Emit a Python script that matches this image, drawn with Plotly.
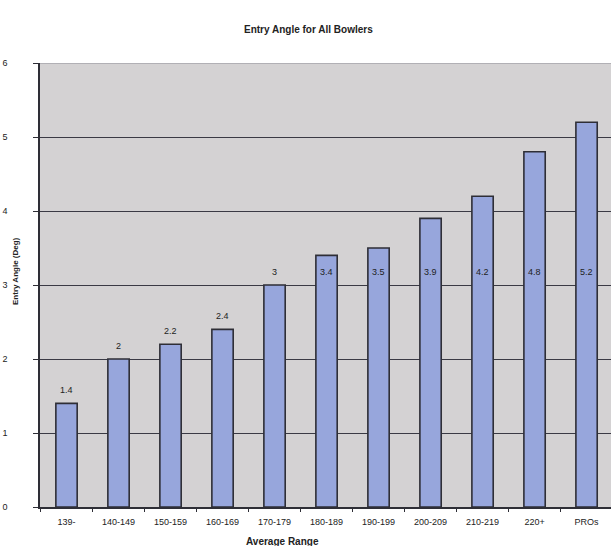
import plotly.graph_objects as go

# Average ranges and mean entry angle (degrees) for each group
ranges = ["139-", "140-149", "150-159", "160-169", "170-179", "180-189",
          "190-199", "200-209", "210-219", "220+", "PROs"]
angles = [1.4, 2, 2.2, 2.4, 3, 3.4, 3.5, 3.9, 4.2, 4.8, 5.2]
y_ticks = [0, 1, 2, 3, 4, 5, 6]

FONT = "Liberation Sans, Arial, sans-serif"
DARK = "#2e2e36"

fig = go.Figure()
fig.add_trace(go.Bar(
    x=ranges, y=angles, width=0.41,
    marker=dict(color="#97a6dc", line=dict(color=DARK, width=1.6)),
    hoverinfo="x+y",
))

# Value labels: short bars get their label on top, tall bars carry it inside
annotations = []
inside_level = 3.18
for cat, val in zip(ranges, angles):
    if val <= 3:
        annotations.append(dict(x=cat, y=val, xref="x", yref="y", text=str(val),
                                showarrow=False, yanchor="bottom", yshift=6,
                                font=dict(family=FONT, size=9, color="#222")))
    else:
        annotations.append(dict(x=cat, y=inside_level, xref="x", yref="y", text=str(val),
                                showarrow=False, yanchor="middle",
                                font=dict(family=FONT, size=9, color="#222")))

annotations.append(dict(x=(308 - 40) / 571, y=(507 - 30) / 444, xref="paper", yref="paper",
                        text="<b>Entry Angle for All Bowlers</b>", showarrow=False,
                        xanchor="center", yanchor="middle",
                        font=dict(family=FONT, size=10, color="#222")))
annotations.append(dict(x=(15 - 40) / 571, y=(507 - 271) / 444, xref="paper", yref="paper",
                        text="<b>Entry Angle (Deg)</b>", showarrow=False, textangle=-90,
                        xanchor="center", yanchor="middle",
                        font=dict(family=FONT, size=8, color="#222")))
annotations.append(dict(x=(282 - 40) / 571, y=(507 - 541) / 444, xref="paper", yref="paper",
                        text="<b>Average Range</b>", showarrow=False,
                        xanchor="center", yanchor="middle",
                        font=dict(family=FONT, size=10, color="#222")))

fig.update_layout(
    width=611, height=546,
    margin=dict(l=40, r=0, t=63, b=39),
    paper_bgcolor="white",
    plot_bgcolor="#d4d2d3",
    showlegend=False,
    annotations=annotations,
    bargap=0.59,
    font=dict(family=FONT, size=9, color="#222"),
    # lighter frame line along the top of the plot area
    shapes=[dict(type="line", xref="paper", yref="y", x0=0, x1=1, y0=6, y1=6,
                 line=dict(color="#8e8e98", width=1.2), layer="above")],
)
fig.update_xaxes(
    range=[-0.51, 10.47],
    showline=True, linecolor=DARK, linewidth=1.6,
    ticks="outside", tickson="boundaries", ticklen=3, tickcolor=DARK,
    ticklabelstandoff=5,
    tickfont=dict(family=FONT, size=9, color="#222"),
    showgrid=False,
)
fig.update_yaxes(
    range=[0, 6], tickvals=y_ticks,
    showline=True, linecolor=DARK, linewidth=1.6,
    ticks="outside", ticklen=5, tickwidth=1.4, tickcolor=DARK,
    ticklabelstandoff=24,
    tickfont=dict(family=FONT, size=9, color="#222"),
    showgrid=True, gridcolor="#3a3a44", gridwidth=1.2,
    zeroline=False,
)

fig.write_html("out.html")
